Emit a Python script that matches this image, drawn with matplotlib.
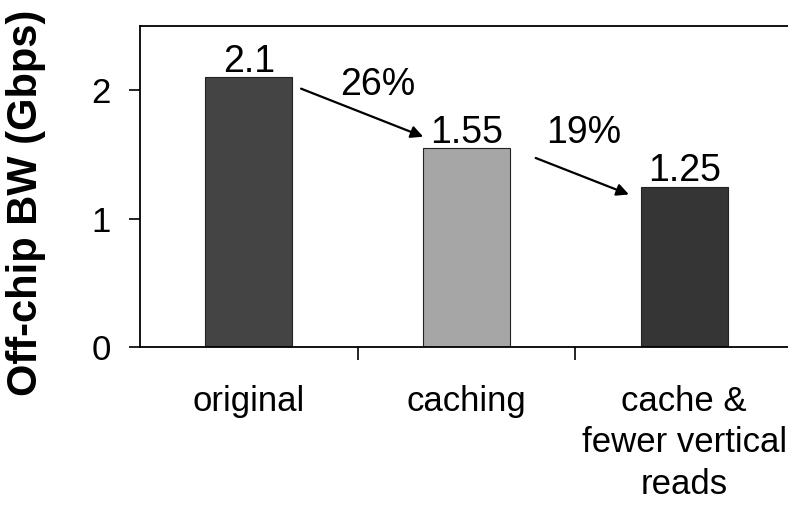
import matplotlib
matplotlib.use("Agg")
import matplotlib.pyplot as plt

plt.rcParams['font.family'] = ['Liberation Sans', 'DejaVu Sans']

categories = ["original", "caching", "cache &\nfewer vertical\nreads"]
bandwidth = [2.1, 1.55, 1.25]
value_labels = ["2.1", "1.55", "1.25"]
bar_colors = ["#444444", "#a6a6a6", "#353535"]
reductions = ["26%", "19%"]
y_ticks = [0, 1, 2]

fig = plt.figure(figsize=(7.88, 5.08), dpi=100)
W, H = 788, 508
left, right, top, bottom = 140, 793, 26, 347
ax = fig.add_axes([left / W, 1 - bottom / H, (right - left) / W, (bottom - top) / H])

x = list(range(len(categories)))
ax.bar(x, bandwidth, width=0.4, color=bar_colors, edgecolor="#222222", linewidth=0.8, zorder=2)

ax.set_xlim(-0.5, 2.5)
ax.set_ylim(0, 2.5)
ax.set_yticks(y_ticks)
ax.set_yticklabels([str(t) for t in y_ticks], fontsize=25)
ax.set_xticks([0.5, 1.5])
ax.set_xticklabels([])
ax.tick_params(axis='x', direction='out', length=9.5, width=1.2)
ax.tick_params(axis='y', direction='out', length=8, width=1.2, pad=13)
for s in ax.spines.values():
    s.set_linewidth(1.3)

for xi, v, lab in zip(x, bandwidth, value_labels):
    ax.text(xi, v + 0.04, lab, ha='center', va='baseline', fontsize=27)

for xi, lab in zip(x, categories):
    ax.text(xi, -0.295, lab, ha='center', va='top', fontsize=25, linespacing=1.33,
            clip_on=False)

# reduction arrows between consecutive bars
ax.annotate("", xy=(0.813, 1.63), xytext=(0.228, 2.02),
            arrowprops=dict(arrowstyle="-|>", color="black", lw=1.6, mutation_scale=18))
ax.annotate("", xy=(1.758, 1.18), xytext=(1.306, 1.48),
            arrowprops=dict(arrowstyle="-|>", color="black", lw=1.6, mutation_scale=18))
ax.text(0.59, 1.96, reductions[0], ha='center', va='baseline', fontsize=27)
ax.text(1.537, 1.59, reductions[1], ha='center', va='baseline', fontsize=27)

fig.text(26 / W, 1 - 202.5 / H, "Off-chip BW (Gbps)", rotation=90,
         ha='center', va='center', fontsize=30, fontweight='bold')

fig.savefig("out.png", dpi=100)
